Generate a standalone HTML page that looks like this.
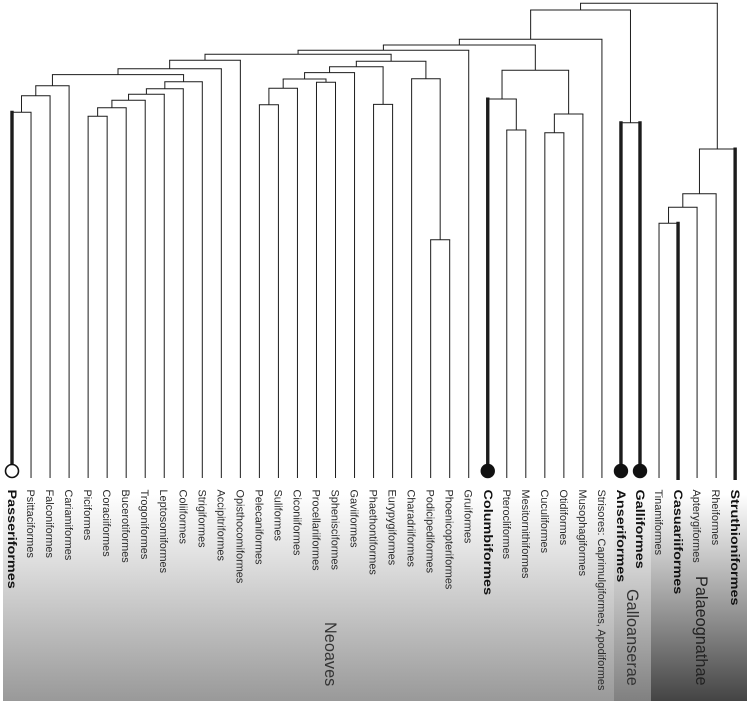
<!DOCTYPE html>
<html lang="en">
<head>
<meta charset="utf-8">
<title>Bird order phylogeny</title>
<style>
html,body{margin:0;padding:0;background:#fff;width:750px;height:704px;overflow:hidden}
svg{display:block;position:absolute;left:0;top:0}
text{font-family:"Liberation Sans",sans-serif}
</style>
</head>
<body>
<svg id="chart" xmlns="http://www.w3.org/2000/svg" width="750" height="704" viewBox="0 0 750 704">
<defs>
<linearGradient id="neoavesGrad" x1="0" y1="0" x2="0" y2="1">
<stop offset="0.03" stop-color="#ffffff"/><stop offset="1" stop-color="#999999"/>
</linearGradient>
<linearGradient id="galloGrad" x1="0" y1="0" x2="0" y2="1">
<stop offset="0.03" stop-color="#ffffff"/><stop offset="1" stop-color="#808080"/>
</linearGradient>
<linearGradient id="palaeoGrad" x1="0" y1="0" x2="0" y2="1">
<stop offset="0.03" stop-color="#ffffff"/><stop offset="1" stop-color="#444444"/>
</linearGradient>
</defs>
<rect x="3" y="488" width="611" height="213" fill="url(#neoavesGrad)"/>
<rect x="614" y="488" width="37" height="213" fill="url(#galloGrad)"/>
<rect x="651" y="488" width="96" height="213" fill="url(#palaeoGrad)"/>
<g id="tree"></g>
<g id="labels"></g>
<text transform="translate(325,622) rotate(90)" font-size="16.3" fill="#333">Neoaves</text>
<text transform="translate(627,589) rotate(90)" font-size="16.3" fill="#333">Galloanserae</text>
<text transform="translate(696,576) rotate(90)" font-size="16.3" fill="#222">Palaeognathae</text>
</svg>
<script>
var taxa = ["Passeriformes","Psittaciformes","Falconiformes","Cariamiformes","Piciformes","Coraciiformes","Bucerotiformes","Trogoniformes","Leptosomiformes","Coliiformes","Strigiformes","Accipitriformes","Opisthocomiformes","Pelecaniformes","Suliformes","Ciconiiformes","Procellariiformes","Sphenisciformes","Gaviiformes","Phaethontiformes","Eurypygiformes","Charadriiformes","Podicipediformes","Phoenicopteriformes","Gruiformes","Columbiformes","Pterocliformes","Mesitornithiformes","Cuculiformes","Otidiformes","Musophagiformes","Strisores: Caprimulgiformes, Apodiformes","Anseriformes","Galliformes","Tinamiformes","Casuariiformes","Apterygiformes","Rheiformes","Struthioniformes"];
var highlightedTaxa = ["Passeriformes","Columbiformes","Anseriformes","Galliformes","Casuariiformes","Struthioniformes"];
var openMarkerTaxa = ["Passeriformes"];
var filledMarkerTaxa = ["Columbiformes","Anseriformes","Galliformes"];
var nodeLeft = [0,"n0","n1",4,"n3","n4","n5","n6","n7","n2","n9","n10",13,"n12",16,"n13","n15",19,"n16",22,21,"n18","n11","n22",26,25,28,"n26","n25","n23","n29",32,"n30",34,"n33","n34","n35","n32"];
var nodeRight = [1,2,3,5,6,7,8,9,10,"n8",11,12,14,15,17,"n14",18,20,"n17",23,"n19","n20","n21",24,27,"n24",29,30,"n27","n28",31,33,"n31",35,36,37,38,"n36"];
var nodeAges = [76.99,80.48,82.59,76.15,77.96,79.52,80.78,81.96,83.43,84.91,86.17,87.94,78.59,82.04,83.31,84.0,85.33,78.67,86.59,50.17,84.06,87.73,89.2,90.04,73.26,79.79,72.69,76.63,85.83,91.16,92.36,74.8,98.53,53.62,56.99,59.85,69.26,99.94];

function xScale(i){ return 12 + 19.03 * i; }
function yScale(age){ return 478 - 4.75 * age; }

var SVG_NS = "http://www.w3.org/2000/svg";
var treeGroup = document.getElementById("tree");
var labelGroup = document.getElementById("labels");
var nodeX = [];

function childX(ref){
  return typeof ref === "string" ? nodeX[parseInt(ref.slice(1), 10)] : xScale(ref);
}
function childY(ref){
  return typeof ref === "string" ? yScale(nodeAges[parseInt(ref.slice(1), 10)]) : null;
}
function addLine(x1, y1, x2, y2, width, name){
  var l = document.createElementNS(SVG_NS, "line");
  l.setAttribute("x1", x1);
  l.setAttribute("y1", y1);
  l.setAttribute("x2", x2);
  l.setAttribute("y2", y2);
  l.setAttribute("stroke", "#1c1c1c");
  l.setAttribute("stroke-width", width);
  
  
  treeGroup.appendChild(l);
}
function tipBottom(name){
  if (openMarkerTaxa.indexOf(name) >= 0 || filledMarkerTaxa.indexOf(name) >= 0) return 470;
  return highlightedTaxa.indexOf(name) >= 0 ? 480 : 478;
}
function drawChild(ref, parentY){
  var x = childX(ref);
  if (typeof ref === "string") {
    addLine(x, parentY, x, childY(ref), 1, "internal-branch");
  } else {
    var name = taxa[ref];
    var bold = highlightedTaxa.indexOf(name) >= 0;
    addLine(x, bold ? parentY - 1.5 : parentY, x, tipBottom(name), bold ? 3.4 : 1, "tip-branch");
  }
}

nodeAges.forEach(function(age, k){
  var l = nodeLeft[k], r = nodeRight[k];
  var xl = childX(l), xr = childX(r);
  nodeX[k] = (xl + xr) / 2;
  var y = yScale(age);
  addLine(xl - 0.5, y, xr + 0.5, y, 1, "clade-crossbar");
  drawChild(l, y);
  drawChild(r, y);
});

// root of the tree has no stem; tip markers and labels follow
taxa.forEach(function(name, i){
  var x = xScale(i);
  if (openMarkerTaxa.indexOf(name) >= 0 || filledMarkerTaxa.indexOf(name) >= 0) {
    var c = document.createElementNS(SVG_NS, "circle");
    var open = openMarkerTaxa.indexOf(name) >= 0;
    c.setAttribute("cx", x);
    c.setAttribute("cy", 471);
    c.setAttribute("r", open ? 6.5 : 7.2);
    c.setAttribute("fill", open ? "#fff" : "#111");
    c.setAttribute("stroke", "#111");
    c.setAttribute("stroke-width", open ? 1.6 : 0);
    
    
    treeGroup.appendChild(c);
  }
  var t = document.createElementNS(SVG_NS, "text");
  var bold = highlightedTaxa.indexOf(name) >= 0;
  t.setAttribute("transform", "translate(" + (x - 4) + ",489.5) rotate(90) scale(" + (bold ? 1.2 : 1) + ",1)");
  t.setAttribute("font-size", bold ? "12" : "10.9");
  t.setAttribute("font-weight", bold ? "bold" : "normal");
  t.setAttribute("fill", bold ? "#111" : "#2a2a2a");
  
  
  t.textContent = name;
  labelGroup.appendChild(t);
});
</script>
</body>
</html>
